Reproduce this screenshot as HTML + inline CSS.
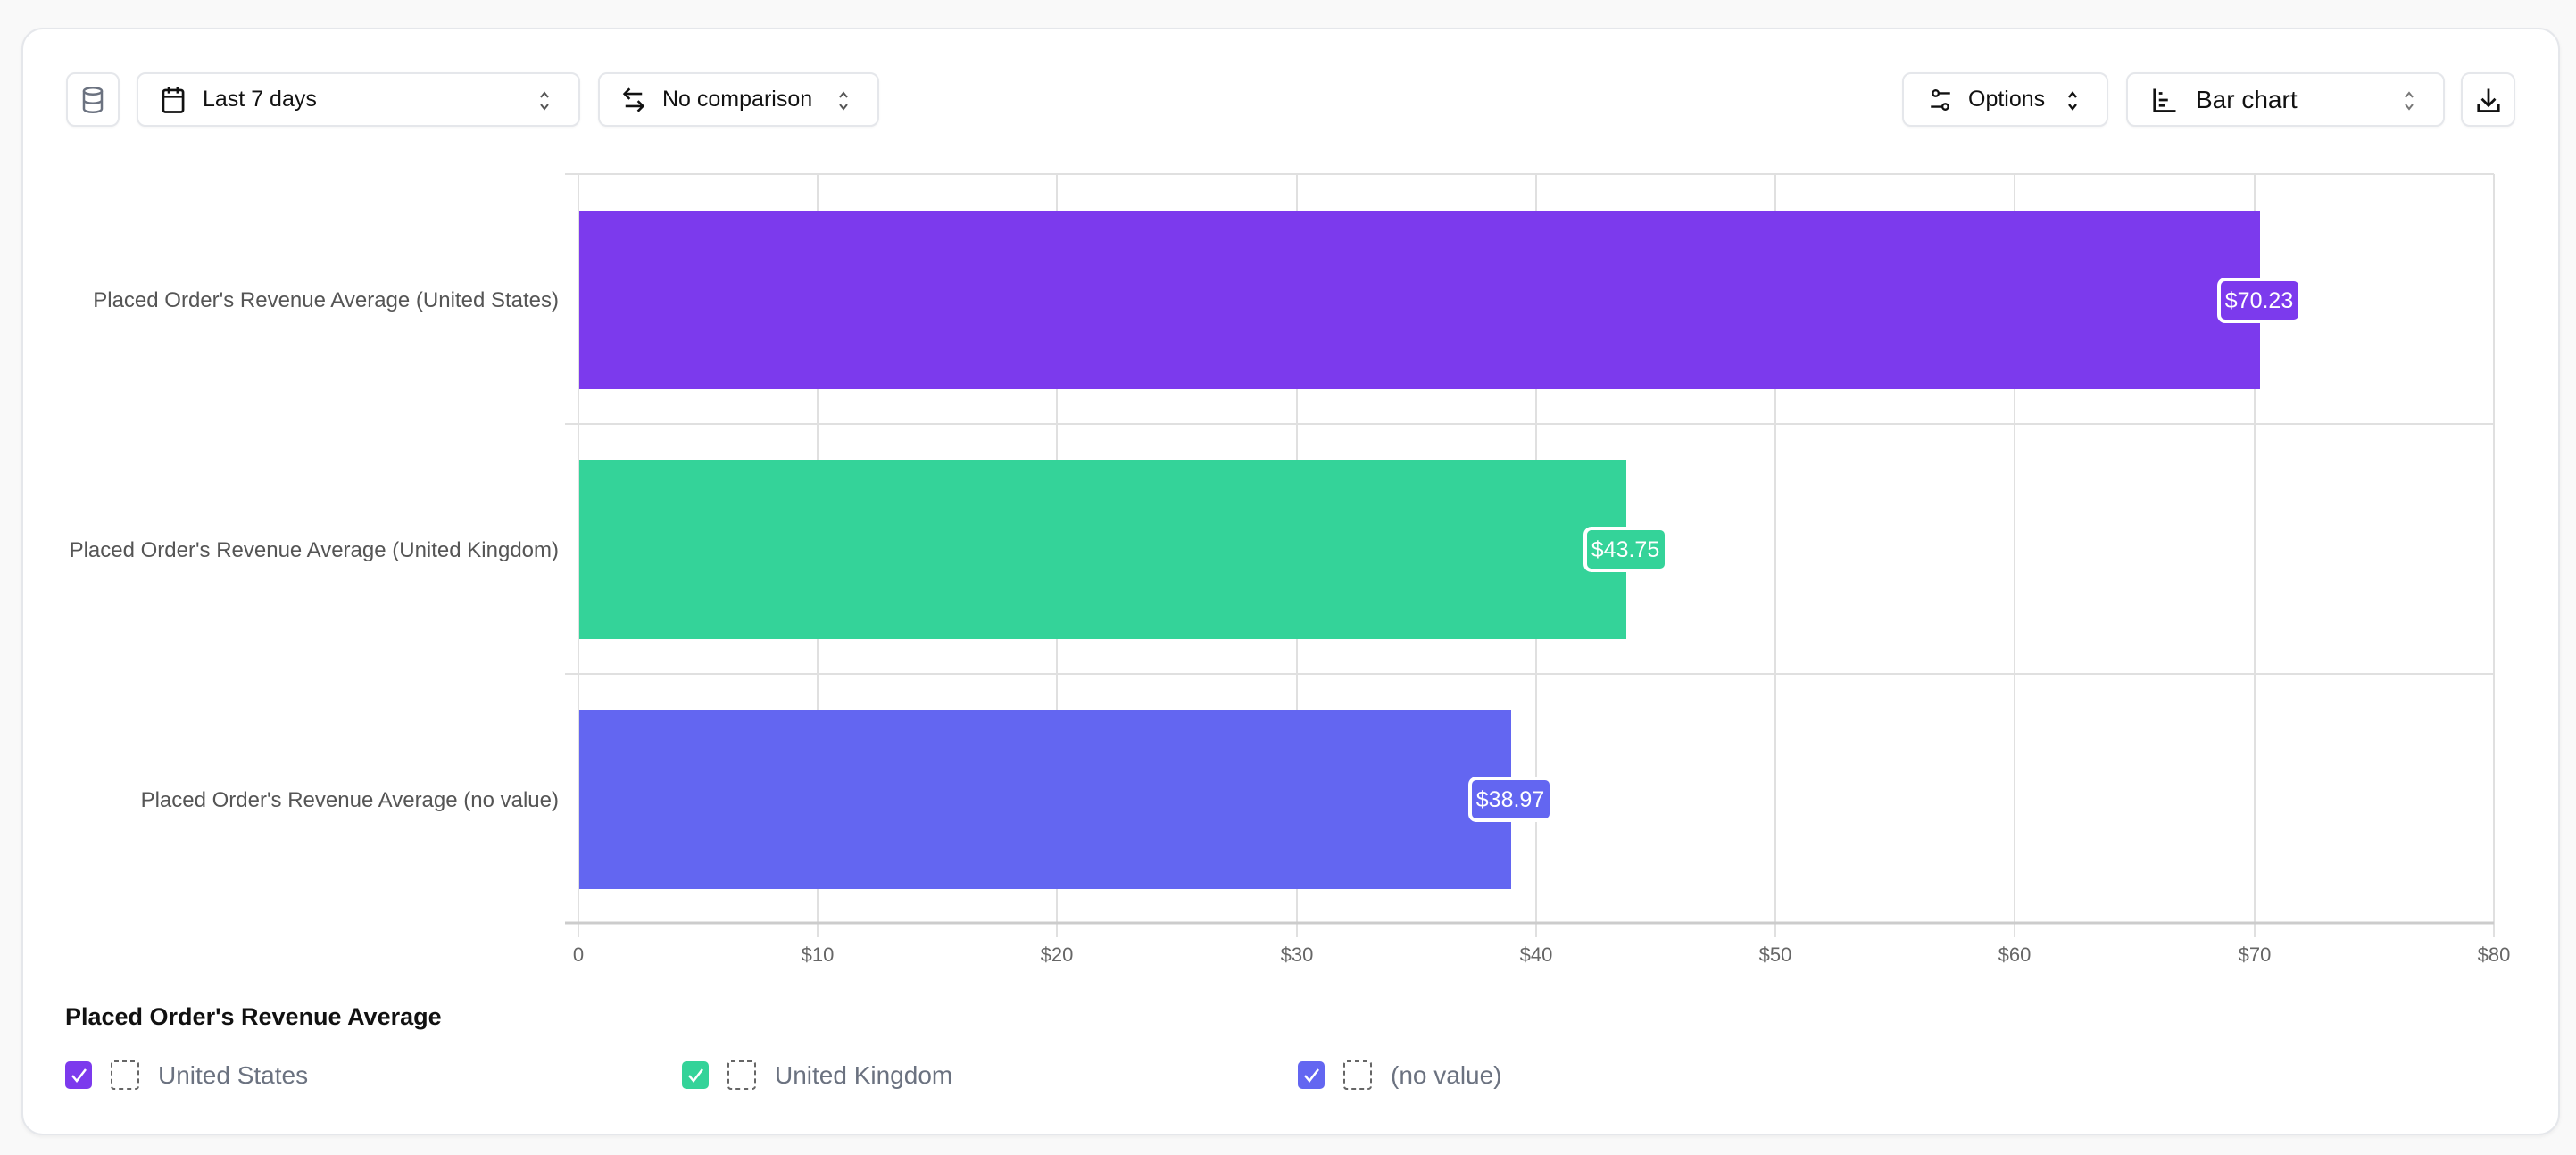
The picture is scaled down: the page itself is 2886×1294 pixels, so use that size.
<!DOCTYPE html>
<html><head><meta charset="utf-8"><style>
*{box-sizing:border-box;margin:0;padding:0}
body{width:2886px;height:1294px;background:#f9f9f9;font-family:"Liberation Sans",sans-serif;position:relative;overflow:hidden}
.card{position:absolute;left:24px;top:31px;width:2844px;height:1241px;background:#fff;border:2px solid #e5e7eb;border-radius:24px;box-shadow:0 2px 4px rgba(0,0,0,.05)}
.btn{position:absolute;top:81px;height:61px;border:2px solid #e5e7eb;border-radius:10px;background:#fff;display:flex;align-items:center;font-size:25px;font-weight:500;color:#111;box-shadow:0 1px 2px rgba(0,0,0,.04)}
.ud{position:absolute;right:30px;top:17px}
</style></head><body>
<div class="card"></div>
<div class="btn" style="left:74px;width:60px;justify-content:center">
<svg width="30" height="34" viewBox="0 0 24 26" fill="none" stroke="#6b7280" stroke-width="2"><ellipse cx="12" cy="5" rx="8" ry="3"/><path d="M4 5v16c0 1.7 3.6 3 8 3s8-1.3 8-3V5M4 13c0 1.7 3.6 3 8 3s8-1.3 8-3"/></svg></div>
<div class="btn" style="left:153px;width:497px;padding-left:24px">
<svg width="30" height="32" viewBox="0 0 24 26" fill="none" stroke="#111" stroke-width="2.2"><rect x="3" y="4" width="18" height="20" rx="2"/><path d="M3 10h18M8 1v6M16 1v6"/></svg>
<span style="margin-left:18px">Last 7 days</span>
<svg class="ud" width="16" height="26" viewBox="0 0 16 26" fill="none" stroke="#555" stroke-width="2"><path d="M4 9l4-5 4 5M4 17l4 5 4-5"/></svg></div>
<div class="btn" style="left:670px;width:315px;padding-left:24px">
<svg width="28" height="30" viewBox="0 0 24 26" fill="none" stroke="#111" stroke-width="2.2"><path d="M20 7H4M8 2L3 7l5 5M4 19h16M16 14l5 5-5 5"/></svg>
<span style="margin-left:18px">No comparison</span>
<svg class="ud" width="16" height="26" viewBox="0 0 16 26" fill="none" stroke="#555" stroke-width="2"><path d="M4 9l4-5 4 5M4 17l4 5 4-5"/></svg></div>
<div class="btn" style="left:2131px;width:231px;padding-left:28px">
<svg width="26" height="28" viewBox="0 0 24 26" fill="none" stroke="#111" stroke-width="2.2"><circle cx="7" cy="6" r="3"/><path d="M10 6h12M2 20h12"/><circle cx="17" cy="20" r="3"/></svg>
<span style="margin-left:18px">Options</span>
<svg class="ud" width="16" height="26" viewBox="0 0 16 26" fill="none" stroke="#111" stroke-width="2.4"><path d="M4 9l4-5 4 5M4 17l4 5 4-5"/></svg></div>
<div class="btn" style="left:2382px;width:357px;padding-left:26px;font-size:28px">
<svg width="30" height="30" viewBox="0 0 24 24" fill="none" stroke="#111" stroke-width="2.2"><path d="M3 2v20h19M7 6h3M7 12h8M7 17h5"/></svg>
<span style="margin-left:20px">Bar chart</span>
<svg class="ud" width="16" height="26" viewBox="0 0 16 26" fill="none" stroke="#777" stroke-width="2"><path d="M4 9l4-5 4 5M4 17l4 5 4-5"/></svg></div>
<div class="btn" style="left:2757px;width:61px;justify-content:center">
<svg width="30" height="30" viewBox="0 0 24 24" fill="none" stroke="#111" stroke-width="2.2"><path d="M12 2v14M6 11l6 6 6-6M3 16v6h18v-6"/></svg></div>

<svg style="position:absolute;left:0;top:0" width="2886" height="1294" font-family="Liberation Sans, sans-serif">
<g stroke="#e0e0e0" stroke-width="2">
<line x1="916" y1="195" x2="916" y2="1050"/><line x1="1184" y1="195" x2="1184" y2="1050"/><line x1="1453" y1="195" x2="1453" y2="1050"/><line x1="1721" y1="195" x2="1721" y2="1050"/><line x1="1989" y1="195" x2="1989" y2="1050"/><line x1="2257" y1="195" x2="2257" y2="1050"/><line x1="2526" y1="195" x2="2526" y2="1050"/><line x1="2794" y1="195" x2="2794" y2="1050"/>
<line x1="633" y1="195" x2="2794" y2="195"/><line x1="633" y1="475" x2="2794" y2="475"/><line x1="633" y1="755" x2="2794" y2="755"/>
<line x1="648" y1="195" x2="648" y2="1050"/>
</g>
<line x1="633" y1="1034" x2="2794" y2="1034" stroke="#ccc" stroke-width="3"/>
<rect x="649" y="236" width="1883" height="200" fill="#7c3aed"/>
<rect x="649" y="515" width="1173" height="201" fill="#34d399"/>
<rect x="649" y="795" width="1044" height="201" fill="#6366f1"/>
<g font-size="24" fill="#555" text-anchor="end">
<text x="626" y="344">Placed Order's Revenue Average (United States)</text>
<text x="626" y="624">Placed Order's Revenue Average (United Kingdom)</text>
<text x="626" y="904">Placed Order's Revenue Average (no value)</text>
</g>
<g font-size="22" fill="#666" text-anchor="middle">
<text x="648" y="1077">0</text><text x="916" y="1077">$10</text><text x="1184" y="1077">$20</text><text x="1453" y="1077">$30</text><text x="1721" y="1077">$40</text><text x="1989" y="1077">$50</text><text x="2257" y="1077">$60</text><text x="2526" y="1077">$70</text><text x="2794" y="1077">$80</text>
</g>
<g stroke="#fff" stroke-width="4" font-size="25">
<rect x="2486" y="313" width="91" height="47" rx="7" fill="#7c3aed"/>
<rect x="1776" y="592" width="91" height="47" rx="7" fill="#34d399"/>
<rect x="1647" y="872" width="91" height="47" rx="7" fill="#6366f1"/>
</g>
<g font-size="25" fill="#fff" text-anchor="middle">
<text x="2531" y="345">$70.23</text><text x="1821" y="624">$43.75</text><text x="1692" y="904">$38.97</text>
</g>
<text x="73" y="1148" font-size="27" font-weight="bold" fill="#111">Placed Order's Revenue Average</text>
<g font-size="28" fill="#6b7280">
<rect x="73" y="1189" width="30" height="31" rx="5" fill="#7c3aed"/>
<rect x="125" y="1189" width="30" height="31" rx="3" fill="none" stroke="#666" stroke-width="2" stroke-dasharray="5 4"/>
<text x="177" y="1214">United States</text>
<rect x="764" y="1189" width="30" height="31" rx="5" fill="#34d399"/>
<rect x="816" y="1189" width="30" height="31" rx="3" fill="none" stroke="#666" stroke-width="2" stroke-dasharray="5 4"/>
<text x="868" y="1214">United Kingdom</text>
<rect x="1454" y="1189" width="30" height="31" rx="5" fill="#6366f1"/>
<rect x="1506" y="1189" width="30" height="31" rx="3" fill="none" stroke="#666" stroke-width="2" stroke-dasharray="5 4"/>
<text x="1558" y="1214">(no value)</text>
</g>
<g stroke="#fff" stroke-width="2.5" fill="none">
<path d="M81 1205l5 6 10-13"/><path d="M772 1205l5 6 10-13"/><path d="M1462 1205l5 6 10-13"/>
</g>
</svg>
</body></html>
